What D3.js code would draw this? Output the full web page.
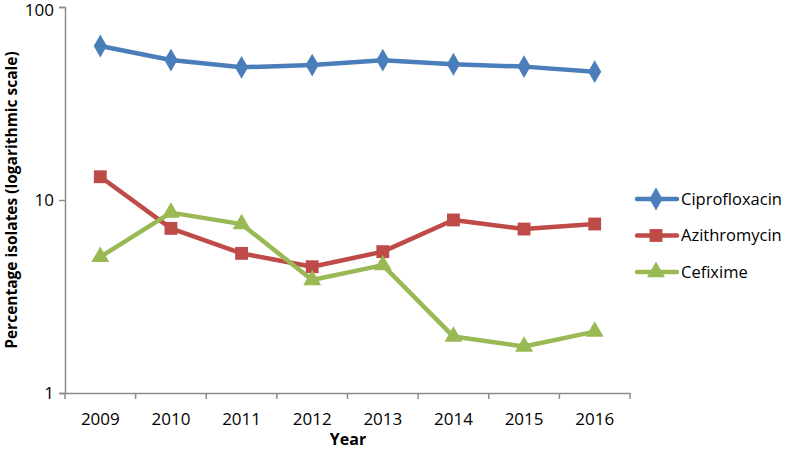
<!DOCTYPE html>
<html><head><meta charset="utf-8">
<script src="https://cdn.jsdelivr.net/npm/d3@7"></script>
<style>body{margin:0;background:#fff}svg{display:block}</style>
</head><body><svg id="c" width="787" height="452"></svg>
<script>
const years = ["2009","2010","2011","2012","2013","2014","2015","2016"];
const ciprofloxacin = [62.8, 53.1, 48.7, 50.0, 53.0, 50.5, 49.1, 46.2];
const azithromycin = [13.2, 7.13, 5.29, 4.51, 5.4, 7.88, 7.07, 7.51];
const cefixime = [5.07, 8.6, 7.5, 3.85, 4.6, 1.96, 1.74, 2.08];
const yTicks = [1, 10, 100];
const seriesNames = ["Ciprofloxacin", "Azithromycin", "Cefixime"];

const series = [
  {name: seriesNames[0], values: ciprofloxacin, color: "#4a7ebb", sym: d3.symbolDiamond, size: 150},
  {name: seriesNames[1], values: azithromycin, color: "#be4b48", sym: d3.symbolSquare, size: 165},
  {name: seriesNames[2], values: cefixime, color: "#98b954", sym: d3.symbolTriangle, size: 140}
];

const svg = d3.select("#c");
const font = "'Open Sans', 'Liberation Sans', sans-serif";
const x = d3.scaleBand().domain(years).range([65, 630]);
const y = d3.scaleLog().domain([1, 100]).range([393, 7]);
const axisColor = "#8c8c8c";

// y axis
const ya = svg.append("g").attr("transform", "translate(65,0)")
  .call(d3.axisLeft(y).tickValues(yTicks).tickFormat(d3.format("d")).tickSize(6).tickPadding(5));
ya.select(".domain").attr("stroke", axisColor).attr("stroke-width", 1.5);
ya.selectAll(".tick line").attr("stroke", axisColor).attr("stroke-width", 1.5);
ya.selectAll("text").attr("font-family", font).attr("font-size", 17).attr("fill", "#000")
  .attr("dy", d => d === 100 ? "0.5em" : "0.32em");

// x axis
const xa = svg.append("g").attr("transform", "translate(0,393)")
  .call(d3.axisBottom(x).tickSize(0).tickPadding(20));
xa.select(".domain").attr("stroke", axisColor).attr("stroke-width", 1.5);
xa.selectAll("text").attr("font-family", font).attr("font-size", 17).attr("fill", "#000");
// band boundary ticks
const bounds = years.map(d => x(d)).concat([x.range()[1]]);
svg.append("g").selectAll("line").data(bounds).join("line")
  .attr("x1", d => d).attr("x2", d => d).attr("y1", 393).attr("y2", 399)
  .attr("stroke", axisColor).attr("stroke-width", 1.5);

const cx = d => x(d) + x.bandwidth() / 2;
const line = d3.line().x((d, i) => cx(years[i])).y(d => y(d));

series.forEach(s => {
  svg.append("path").datum(s.values).attr("d", line)
    .attr("fill", "none").attr("stroke", s.color).attr("stroke-width", 4.5).attr("stroke-linejoin", "round");
  svg.append("g").selectAll("path").data(s.values).join("path")
    .attr("d", d3.symbol().type(s.sym).size(s.size))
    .attr("transform", (d, i) => `translate(${cx(years[i])},${y(d)})`)
    .attr("fill", s.color);
});

// legend
const lg = svg.append("g");
series.forEach((s, i) => {
  const ly = 199 + i * 36.5;
  lg.append("line").attr("x1", 637).attr("x2", 677).attr("y1", ly).attr("y2", ly)
    .attr("stroke", s.color).attr("stroke-width", 4.5).attr("stroke-linecap", "round");
  lg.append("path").attr("d", d3.symbol().type(s.sym).size(s.size))
    .attr("transform", `translate(656,${ly})`).attr("fill", s.color);
  lg.append("text").attr("x", 681).attr("y", ly).attr("dy", "0.35em")
    .attr("font-family", font).attr("font-size", 16.5).attr("fill", "#000").text(s.name);
});

// axis titles
svg.append("text").attr("transform", "translate(17,200) rotate(-90)")
  .attr("text-anchor", "middle").attr("font-family", font).attr("font-size", 15.5)
  .attr("font-weight", "bold").text("Percentage isolates (logarithmic scale)");
svg.append("text").attr("x", 348).attr("y", 445).attr("text-anchor", "middle")
  .attr("font-family", font).attr("font-size", 16).attr("font-weight", "bold").text("Year");
</script></body></html>
